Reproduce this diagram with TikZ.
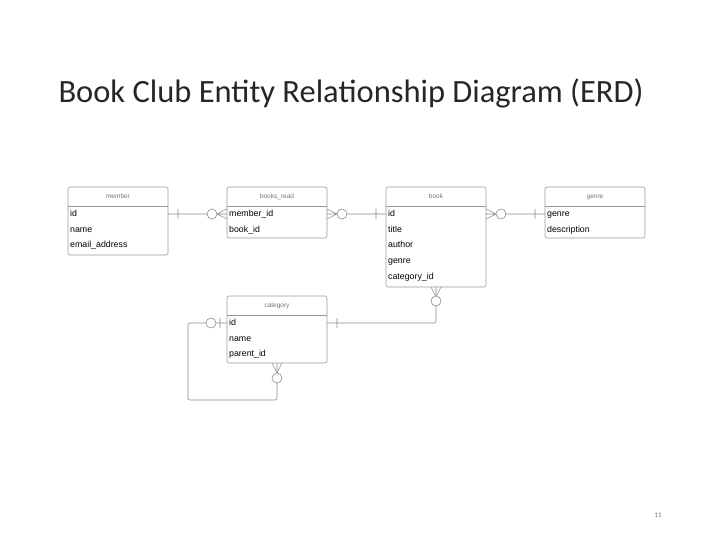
\documentclass[tikz,border=0pt]{standalone}
\usepackage{fontspec}
\setmainfont{Carlito}
\newfontfamily\erdfont{Liberation Sans}
\begin{document}
\begin{tikzpicture}[x=1pt,y=-1pt,
    tbl/.style={draw=black!40,rounded corners=2pt,line width=0.6pt},
    hdr/.style={font=\erdfont\fontsize{6.5}{7}\selectfont,text=black!55,text height=5pt,text depth=1.5pt},
    fld/.style={font=\erdfont\fontsize{8.8}{9}\selectfont,anchor=west,inner sep=0pt,text height=6.5pt,text depth=2pt},
    rel/.style={draw=black!45,line width=0.6pt},
    zc/.style={circle,draw=black!45,fill=white,line width=0.6pt,minimum size=10pt,inner sep=0pt}]
\useasboundingbox (0,0) rectangle (720,540);
\node[anchor=west,font=\fontsize{32.5}{34}\selectfont,text=black!85] (title) at (55,93) {Book Club Entity Relationship Diagram (ERD)};
\node[font=\fontsize{7}{8}\selectfont,text=black!55] (pg) at (658,515) {11};
% tables
\draw[tbl] (68,187) rectangle (168,255);
\draw[black!40] (68,206) -- (168,206);
\node[hdr] (member) at (118,196.5) {member};
\node[fld] (mid) at (70,214) {id};
\node[fld] at (70,230) {name};
\node[fld] at (70,245) {email\_address};
\draw[tbl] (227,187) rectangle (327,238);
\draw[black!40] (227,206) -- (327,206);
\node[hdr] (br) at (277,196.5) {books\_read};
\node[fld] (brm) at (229,214) {member\_id};
\node[fld] at (229,230) {book\_id};
\draw[tbl] (386,187) rectangle (486,287);
\draw[black!40] (386,206) -- (486,206);
\node[hdr] (book) at (436,196.5) {book};
\node[fld] (bid) at (388,214) {id};
\node[fld] at (388,230) {title};
\node[fld] at (388,245) {author};
\node[fld] at (388,261) {genre};
\node[fld] at (388,277) {category\_id};
\draw[tbl] (545,187) rectangle (645,238);
\draw[black!40] (545,206) -- (645,206);
\node[hdr] (genre) at (595,196.5) {genre};
\node[fld] (gg) at (547,214) {genre};
\node[fld] at (547,230) {description};
\draw[tbl] (227,296) rectangle (327,363);
\draw[black!40] (227,315) -- (327,315);
\node[hdr] (cat) at (277,305.5) {category};
\node[fld] (cid) at (229,323) {id};
\node[fld] at (229,339) {name};
\node[fld] at (229,354) {parent\_id};
% member -- books_read
\draw[rel] (168,214) -- (227,214) (178,209) -- (178,219)
  (217,214) -- (227,209) (217,214) -- (227,219);
\node[zc] (c1) at (212,214) {};
% books_read -- book
\draw[rel] (327,214) -- (386,214) (376,209) -- (376,219)
  (337,214) -- (327,209) (337,214) -- (327,219);
\node[zc] (c2) at (342,214) {};
% book -- genre
\draw[rel] (486,214) -- (545,214) (535,209) -- (535,219)
  (496,214) -- (486,209) (496,214) -- (486,219);
\node[zc] (c3) at (501,214) {};
% book -- category
\draw[rel,rounded corners=2pt] (436,287) -- (436,323) -- (327,323);
\draw[rel] (337,318) -- (337,328) (436,297) -- (431,287) (436,297) -- (441,287);
\node[zc] (c4) at (436,301) {};
% category self reference
\draw[rel,rounded corners=2pt] (227,323) -- (188,323) -- (188,400) -- (277,400) -- (277,363);
\draw[rel] (220,318) -- (220,328) (277,373) -- (272,363) (277,373) -- (282,363);
\node[zc] (c5) at (211,323) {};
\node[zc] (c6) at (277,378) {};
\end{tikzpicture}
\end{document}
